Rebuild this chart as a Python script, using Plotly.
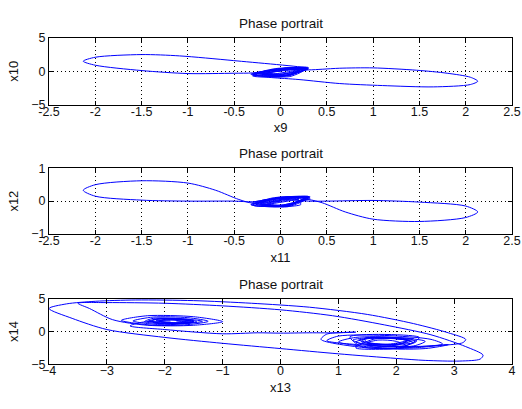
import plotly.graph_objects as go

# ---------------- data ----------------
# subplot 1 : x9 vs x10
x9 = [-0.30, 0.00, 0.30, 0.05, -0.30, -0.05, 0.28, 0.10, -0.28, 0.05, 0.30,
      -0.02, -0.25, 0.00, 0.22, 0.12, -0.18, -0.05, 0.26, 0.08, -0.22, 0.02, 0.30,
      0.45, 0.64, 1.00, 1.47, 1.80, 2.05, 2.13, 2.05, 1.65, 1.10, 0.64, 0.20, -0.10, -0.30,
      -0.10, 0.25, 0.00, -0.32, 0.00, 0.30, 0.08, -0.25, 0.10, 0.28,
      0.02, -0.20, 0.05, 0.20, 0.00, -0.15, 0.15, 0.28,
      -0.51, -1.09, -1.50, -2.00, -2.13, -2.00, -1.50, -1.00, -0.50, -0.30,
      0.05, 0.30, 0.00, -0.30, -0.05, 0.25, 0.10, -0.20, 0.05, 0.18, -0.10, -0.22, 0.00]
x10 = [-0.45, 0.30, 0.45, -0.70, -0.50, 0.40, 0.40, -0.80, -0.40, 0.45, 0.30,
       -0.50, -0.30, 0.20, 0.35, -0.45, -0.55, 0.05, 0.25, -0.60, -0.20, 0.35, 0.20,
       0.30, 0.45, 0.50, 0.15, -0.30, -0.90, -1.50, -2.00, -2.35, -2.15, -1.85, -1.25, -0.95, -0.70,
       0.20, 0.50, -0.85, -0.45, 0.35, 0.55, -0.60, -0.35, 0.50, 0.55,
       -0.40, -0.15, 0.30, 0.15, -0.55, -0.35, 0.40, 0.50,
       1.60, 2.30, 2.50, 2.10, 1.50, 0.90, 0.10, -0.35, -0.30, -0.25,
       0.45, 0.40, -0.75, -0.55, 0.25, 0.45, -0.65, -0.40, 0.10, 0.20, -0.45, -0.30, 0.00]

# subplot 2 : x11 vs x12
x11 = [-0.32, -0.05, 0.32, 0.05, -0.30, -0.08, 0.30, 0.08, -0.28, 0.02, 0.32,
       0.00, -0.22, 0.05, 0.25, 0.10, -0.18, -0.02, 0.28, 0.06, -0.25, 0.03, 0.30,
       0.45, 0.70, 1.00, 1.50, 2.00, 2.13, 2.00, 1.50, 1.00, 0.50, 0.30,
       -0.05, 0.30, 0.00, -0.32, -0.02, 0.28, 0.06, -0.26, 0.05, 0.30, 0.00, -0.30,
       -0.10, 0.15, 0.22, -0.12, -0.20, 0.10, -0.30,
       -0.45, -0.70, -1.00, -1.50, -2.00, -2.13, -2.00, -1.50, -1.00, -0.50, -0.30,
       0.02, 0.31, 0.04, -0.30, -0.04, 0.26, 0.08, -0.22, 0.00, 0.20, -0.15, 0.00]
x12 = [-0.10, 0.08, 0.13, -0.15, -0.12, 0.10, 0.10, -0.17, -0.08, 0.12, 0.08,
       -0.12, -0.05, 0.06, 0.10, -0.13, -0.14, 0.04, 0.12, -0.16, -0.06, 0.09, 0.05,
       -0.05, -0.33, -0.55, -0.62, -0.50, -0.33, -0.15, -0.03, 0.02, 0.00, 0.00,
       0.10, 0.14, -0.16, -0.11, 0.09, 0.12, -0.14, -0.09, 0.11, 0.12, -0.13, -0.04,
       0.06, 0.09, -0.10, -0.14, 0.02, 0.07, -0.06,
       0.05, 0.33, 0.55, 0.62, 0.50, 0.33, 0.15, 0.03, 0.00, 0.00, -0.02,
       0.10, 0.12, -0.15, -0.12, 0.08, 0.11, -0.13, -0.08, 0.00, 0.06, -0.10, 0.00]

# subplot 3 : x13 vs x14
x13 = [-1.80, -1.60, -1.70, -2.00, -2.10, -1.90, -1.60, -1.50, -1.80, -2.20, -2.20, -1.80, -1.50, -1.60,
       -1.90, -2.10, -2.00, -1.70, -1.55, -1.75, -2.05, -2.25, -2.05, -1.60, -1.45, -1.65,
       -1.95, -2.15, -1.90, -1.65, -1.55, -1.85, -2.30, -2.10, -1.70, -1.50,
       -1.90, -2.35, -2.20, -1.70, -1.35, -1.70,
       -2.10, -2.55, -2.20, -1.60, -1.25, -1.60,
       -2.20, -2.75, -2.30, -1.50, -1.00, -1.50, -2.30, -2.90,
       -3.30, -3.50, -3.00, -2.00, -1.00, 0.00, 0.90, 1.80, 2.60, 3.20, 3.50, 3.45, 3.10, 2.50,
       2.00, 1.00, 0.00, -1.00, -2.00, -3.00, -3.60, -4.00,
       -3.70, -3.20, -2.50, -1.50, -0.50, 0.50, 1.50, 2.30, 2.90, 3.20, 3.15, 2.80, 2.20,
       1.50, 0.80, 1.00, 1.80, 2.60, 2.80, 2.30, 1.60, 1.00, 1.30, 2.00, 2.50, 2.30, 1.70,
       1.30, 1.50, 2.10, 2.30, 1.90, 1.50, 1.70, 2.00, 2.20, 1.40, 1.20, 2.40, 2.10, 1.30,
       1.60, 2.30, 1.90, 1.40, 1.50, 2.20, 2.00, 1.60, 1.35, 1.75, 2.35, 2.15, 1.55,
       1.45, 1.90, 2.25, 1.95, 1.40, 1.25, 1.70, 2.20, 2.05, 1.50,
       1.80, 2.90, 2.50, 1.50, 0.70, 0.80, 1.30, 1.00, 0.50, 0.00, -0.40, -1.00, -2.00, -2.60,
       -2.40, -1.90]
x14 = [1.60, 1.40, 1.30, 1.40, 1.60, 1.80, 1.70, 1.50, 1.20, 1.40, 1.80, 1.90, 1.60, 1.30,
       1.30, 1.55, 1.85, 1.80, 1.55, 1.35, 1.25, 1.60, 1.95, 1.85, 1.50, 1.25,
       1.35, 1.65, 1.75, 1.55, 1.35, 1.25, 1.55, 1.90, 1.80, 1.45,
       1.15, 1.50, 2.00, 1.95, 1.55, 1.15,
       1.05, 1.60, 2.20, 2.10, 1.55, 1.05,
       0.95, 1.70, 2.40, 2.25, 1.50, 0.95, 0.95, 1.80,
       3.50, 4.30, 4.40, 4.30, 3.90, 3.30, 2.40, 1.00, -0.50, -2.30, -3.60, -4.20, -4.50, -4.40,
       -4.10, -3.40, -2.60, -1.80, -0.90, 0.30, 2.00, 3.50,
       4.20, 4.60, 4.80, 4.70, 4.30, 3.70, 2.60, 1.20, -0.20, -1.20, -1.70, -2.10, -2.30,
       -2.10, -1.40, -0.70, -0.60, -1.20, -1.90, -2.50, -2.40, -1.60, -0.90, -0.90, -1.50, -2.20, -2.20,
       -1.60, -1.10, -1.20, -1.70, -2.00, -1.70, -1.30, -1.50, -2.30, -2.30, -0.80, -0.90, -2.40, -2.50,
       -1.20, -1.10, -1.90, -1.60, -1.00, -1.40, -2.10, -1.80, -1.30, -0.95, -1.50, -2.15, -2.05,
       -1.05, -1.00, -1.50, -1.95, -1.85, -1.30, -0.85, -1.25, -1.95, -2.10,
       -2.60, -2.00, -2.60, -2.50, -1.20, -0.40, -0.10, -0.20, -0.20, -0.25, -0.20, -0.35, 0.30, 0.85,
       1.40, 1.60]

FONT = "Liberation Sans, Arial, Helvetica, sans-serif"
BLUE = "#0000ff"

fig = go.Figure()
for xs, ys, xa, ya in [(x9, x10, "x", "y"), (x11, x12, "x2", "y2"), (x13, x14, "x3", "y3")]:
    fig.add_trace(go.Scatter(x=xs, y=ys, mode="lines", xaxis=xa, yaxis=ya,
                             line=dict(color=BLUE, width=1, shape="spline", smoothing=0.8),
                             showlegend=False, hoverinfo="skip"))

H = 409.0
def dom(top_px, bot_px):
    return [1 - bot_px / H, 1 - top_px / H]

d1 = dom(32, 101)
d2 = dom(167, 235)
d3 = dom(302, 370)

def ax(**kw):
    base = dict(showline=True, linecolor="black", linewidth=1, mirror="ticks",
                ticks="inside", ticklen=4, tickcolor="black",
                showgrid=True, gridcolor="black", griddash="1px,3px", gridwidth=1,
                zeroline=False, tickfont=dict(family=FONT, size=12.5, color="#111111"),
                fixedrange=True)
    base.update(kw)
    return base

xt1 = [-2.5, -2, -1.5, -1, -0.5, 0, 0.5, 1, 1.5, 2, 2.5]
xt3 = [-4, -3, -2, -1, 0, 1, 2, 3, 4]
TF = dict(family=FONT, size=13, color="#111111")

fig.update_layout(
    width=522, height=409,
    margin=dict(l=49, r=10, t=0, b=0),
    paper_bgcolor="white", plot_bgcolor="white",
    font=dict(family=FONT, size=12, color="black"),
    xaxis=ax(domain=[0, 1], range=[-2.5, 2.5], tickvals=xt1, ticktext=[f"{v:g}" for v in xt1],
             anchor="y", ticklabelstandoff=-5, title=dict(text="x9", standoff=5, font=TF)),
    yaxis=ax(domain=d1, range=[-5, 5], tickvals=[-5, 0, 5], anchor="x",
             title=dict(text="x10", standoff=9, font=TF)),
    xaxis2=ax(domain=[0, 1], range=[-2.5, 2.5], tickvals=xt1, ticktext=[f"{v:g}" for v in xt1],
              anchor="y2", ticklabelstandoff=-5, title=dict(text="x11", standoff=5, font=TF)),
    yaxis2=ax(domain=d2, range=[-1, 1], tickvals=[-1, 0, 1], anchor="x2",
              title=dict(text="x12", standoff=9, font=TF)),
    xaxis3=ax(domain=[0, 1], range=[-4, 4], tickvals=xt3, anchor="y3",
              ticklabelstandoff=-5, title=dict(text="x13", standoff=5, font=TF)),
    yaxis3=ax(domain=d3, range=[-5, 5], tickvals=[-5, 0, 5], anchor="x3",
              title=dict(text="x14", standoff=9, font=TF)),
)

for d in (d1, d2, d3):
    fig.add_annotation(text="Phase portrait", x=0.5, y=d[1], xref="paper", yref="paper",
                       xanchor="center", yanchor="bottom", yshift=5, showarrow=False,
                       font=dict(family=FONT, size=13.5, color="#111111"))

fig.write_html("out.html")
